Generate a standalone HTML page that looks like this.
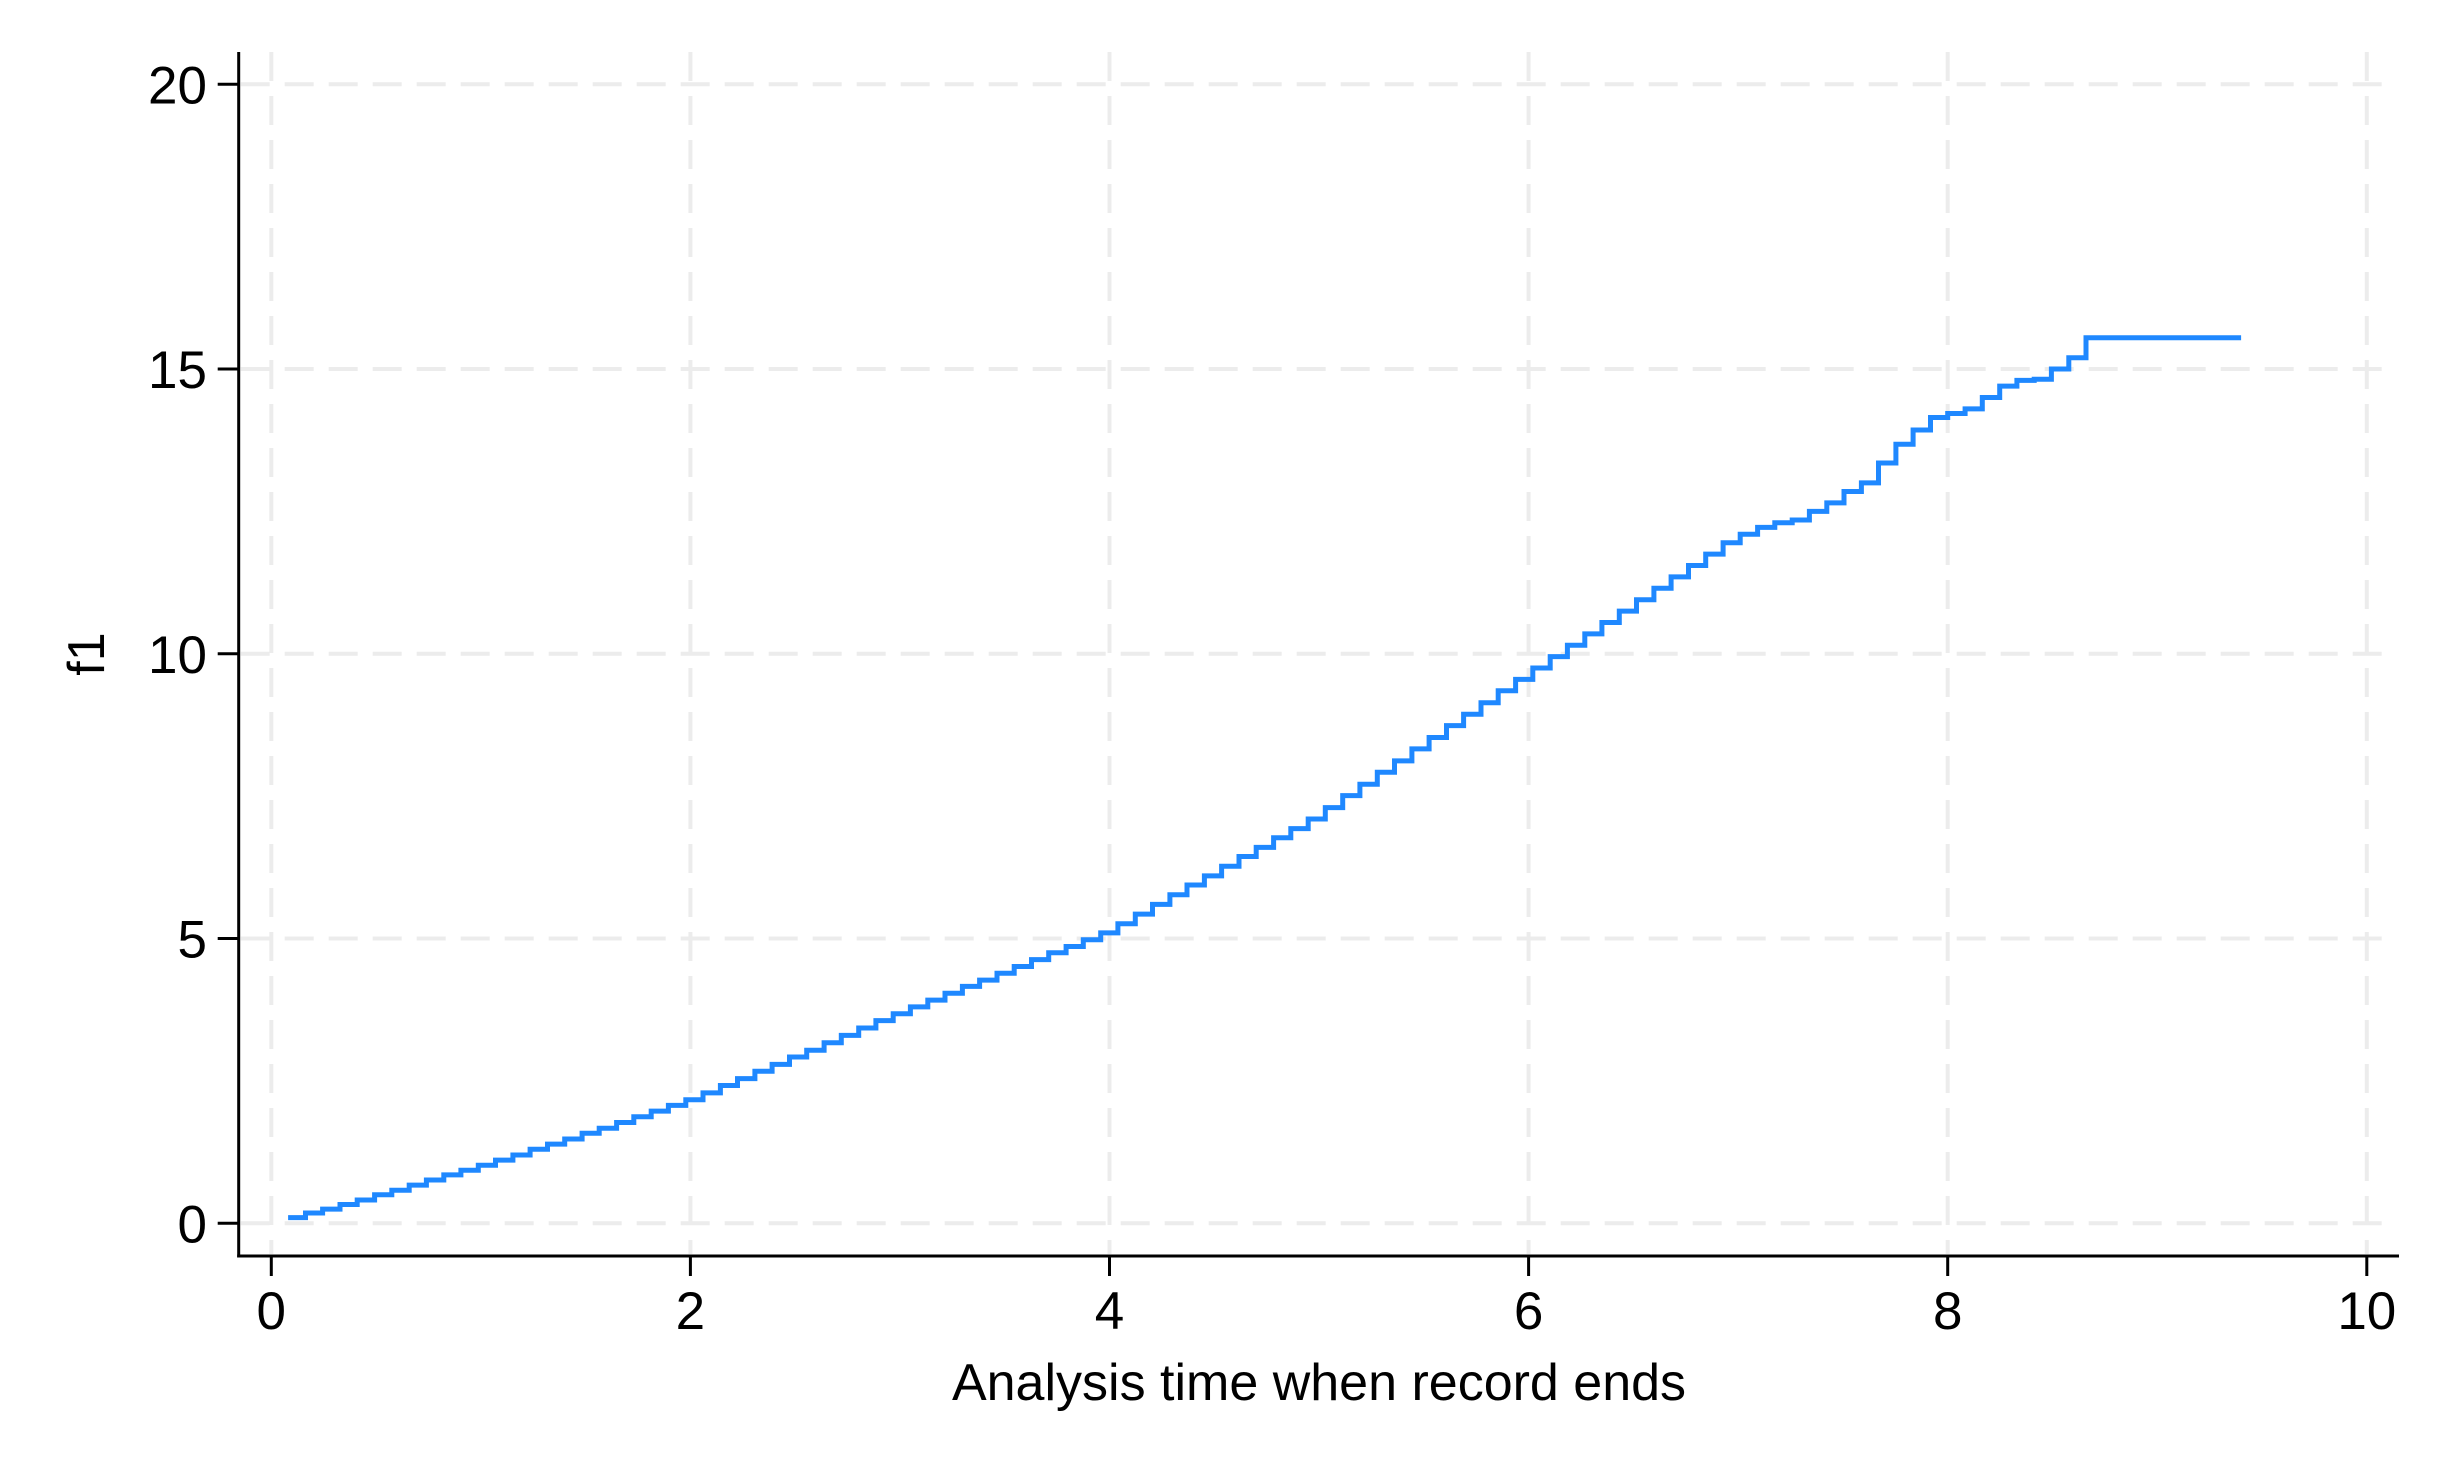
<!DOCTYPE html>
<html><head><meta charset="utf-8"><style>
html,body{margin:0;padding:0;background:#fff;}
svg{display:block;font-family:"Liberation Sans",Arial,sans-serif;}
</style></head><body>
<svg id="chart" width="2452" height="1472" viewBox="0 0 2452 1472" xmlns="http://www.w3.org/2000/svg">
<rect x="0" y="0" width="2452" height="1472" fill="#fff"/>
<g id="grid"></g>
<g id="series"></g>
<g id="axes"></g>
<text x="1319" y="1400" font-size="52" text-anchor="middle">Analysis time when record ends</text>
<text x="0" y="0" font-size="52" text-anchor="middle" transform="translate(104,654) rotate(-90)">f1</text>
</svg>
<script>
const xTicks = [0, 2, 4, 6, 8, 10];
const yTicks = [0, 5, 10, 15, 20];
const xTickLabels = ["0", "2", "4", "6", "8", "10"];
const yTickLabels = ["0", "5", "10", "15", "20"];
const stepTimes = [0.080,0.163,0.245,0.328,0.410,0.493,0.575,0.658,0.740,0.823,0.905,0.988,1.070,1.153,1.235,1.318,1.400,1.483,1.565,1.648,1.730,1.813,1.895,1.978,2.060,2.143,2.225,2.308,2.390,2.473,2.555,2.638,2.720,2.803,2.885,2.968,3.050,3.133,3.215,3.298,3.380,3.463,3.545,3.628,3.710,3.793,3.875,3.958,4.040,4.123,4.205,4.288,4.370,4.453,4.535,4.618,4.700,4.783,4.865,4.948,5.030,5.113,5.195,5.278,5.360,5.443,5.525,5.608,5.690,5.773,5.855,5.938,6.020,6.103,6.185,6.268,6.350,6.433,6.515,6.598,6.680,6.763,6.845,6.928,7.010,7.093,7.175,7.258,7.340,7.423,7.505,7.588,7.670,7.753,7.835,7.918,8.000,8.083,8.165,8.248,8.330,8.413,8.495,8.578,8.660];
const stepValues = [0.10,0.18,0.25,0.33,0.41,0.50,0.58,0.67,0.76,0.85,0.93,
1.02,1.11,1.20,1.30,1.39,1.48,1.58,1.67,1.77,1.87,1.97,2.07,
2.17,2.29,2.42,2.54,2.67,2.79,2.92,3.04,3.17,3.30,3.43,3.56,
3.68,3.80,3.92,4.04,4.16,4.27,4.39,4.51,4.63,4.75,4.86,4.98,
5.10,5.26,5.43,5.60,5.77,5.94,6.10,6.27,6.44,6.60,6.77,6.93,
7.10,7.30,7.51,7.71,7.92,8.12,8.33,8.53,8.74,8.94,9.14,9.35,
9.55,9.75,9.95,10.15,10.35,10.55,10.75,10.95,11.15,11.35,11.55,11.75,
11.95,12.10,12.22,12.30,12.35,
12.50,12.65,12.85,13.00,13.35,13.68,13.93,14.15,14.22,14.30,14.50,14.70,14.80,14.82,15.00,15.20,15.55];
const endTime = 9.40;

const X0 = 271.3, XPU = 209.55, Y0 = 1223.3, YPU = 56.95;
function sx(v){ return X0 + v * XPU; }
function sy(v){ return Y0 - v * YPU; }
const NS = "http://www.w3.org/2000/svg";
function mk(tag, attrs, parent){ const e = document.createElementNS(NS, tag); for (const k in attrs) e.setAttribute(k, attrs[k]); parent.appendChild(e); return e; }

const grid = document.getElementById('grid');
const axes = document.getElementById('axes');
const series = document.getElementById('series');
const plotTop = 52, axisY = 1256, axisX = 238.7, axisRight = 2399;

yTicks.forEach(function(v){
  const l = mk('line', {x1: axisX + 2, x2: 2386, y1: sy(v), y2: sy(v), stroke: '#ececec', 'stroke-width': 4, 'stroke-dasharray': '29 15'}, grid);
  
  
});
xTicks.forEach(function(v){
  const l = mk('line', {x1: sx(v), x2: sx(v), y1: plotTop, y2: axisY - 2, stroke: '#ececec', 'stroke-width': 4, 'stroke-dasharray': '29 15'}, grid);
  
  
});

let d = '';
for (let i = 0; i < stepTimes.length; i++) {
  const x1 = sx(stepTimes[i]);
  const x2 = sx(i + 1 < stepTimes.length ? stepTimes[i + 1] : endTime);
  const y = sy(stepValues[i]);
  d += (i === 0 ? 'M' : 'L') + x1.toFixed(1) + ',' + y.toFixed(1) + 'L' + x2.toFixed(1) + ',' + y.toFixed(1);
}
const path = mk('path', {d: d, fill: 'none', stroke: '#1f88ff', 'stroke-width': 5, 'stroke-linejoin': 'miter', 'stroke-linecap': 'butt'}, series);



const ya = mk('line', {x1: axisX, x2: axisX, y1: plotTop, y2: axisY + 1.5, stroke: '#000', 'stroke-width': 3}, axes);


const xa = mk('line', {x1: axisX - 1.5, x2: axisRight, y1: axisY, y2: axisY, stroke: '#000', 'stroke-width': 3}, axes);



yTicks.forEach(function(v, i){
  const t = mk('line', {x1: axisX - 21, x2: axisX, y1: sy(v), y2: sy(v), stroke: '#000', 'stroke-width': 3}, axes);
  
  
  const tx = mk('text', {x: 207, y: sy(v) + 19, 'font-size': 53, 'text-anchor': 'end', fill: '#000'}, axes);
  tx.textContent = yTickLabels[i];
  
  
});
xTicks.forEach(function(v, i){
  const t = mk('line', {x1: sx(v), x2: sx(v), y1: axisY, y2: axisY + 20, stroke: '#000', 'stroke-width': 3}, axes);
  
  
  const tx = mk('text', {x: sx(v), y: 1329, 'font-size': 53, 'text-anchor': 'middle', fill: '#000'}, axes);
  tx.textContent = xTickLabels[i];
  
  
});
</script>
</body></html>
